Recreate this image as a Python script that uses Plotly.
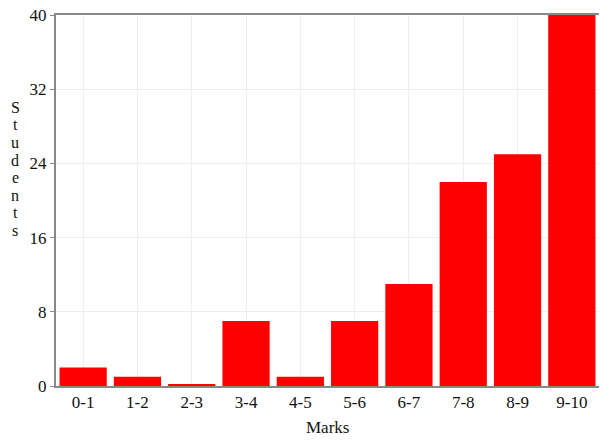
import plotly.graph_objects as go

categories = ["0-1", "1-2", "2-3", "3-4", "4-5", "5-6", "6-7", "7-8", "8-9", "9-10"]
students = [2, 1, 0.2, 7, 1, 7, 11, 22, 25, 40]
y_ticks = [0, 8, 16, 24, 32, 40]
y_title = "Students"
x_title = "Marks"

font = "Liberation Serif, Times New Roman, serif"

fig = go.Figure(go.Bar(
    x=categories, y=students,
    marker=dict(color="#ff0000", line=dict(width=0)),
))

letters = list(y_title)
n = len(letters)
step = 17.6
annotations = [
    dict(text=ch, xref="paper", yref="paper", x=-0.0755, y=0.585,
         yshift=((n - 1) / 2 - i) * step, xanchor="center", yanchor="middle",
         showarrow=False, font=dict(family=font, size=16, color="#111"))
    for i, ch in enumerate(letters)
]
annotations.append(
    dict(text=x_title, xref="paper", yref="paper", x=0.5, y=0, yshift=-30,
         xanchor="center", yanchor="top", showarrow=False,
         font=dict(family=font, size=17, color="#111"))
)

fig.update_layout(
    width=601, height=440,
    margin=dict(l=56, r=2, t=15, b=54, autoexpand=False),
    paper_bgcolor="white", plot_bgcolor="white",
    bargap=0.13,
    showlegend=False,
    font=dict(family=font, size=17, color="#111"),
    annotations=annotations,
)
fig.update_xaxes(
    automargin=False,
    showgrid=True, gridcolor="#eeeeee", gridwidth=1,
    showline=True, linecolor="#888", linewidth=2, mirror=True,
    ticks="", tickfont=dict(family=font, size=17),
)
fig.update_yaxes(
    automargin=False,
    range=[0, 40], tickvals=y_ticks,
    showgrid=True, gridcolor="#eeeeee", gridwidth=1,
    showline=True, linecolor="#888", linewidth=2,
    ticks="outside", ticklen=4, tickcolor="#888",
    tickfont=dict(family=font, size=17), zeroline=False,
)

fig.write_html("out.html", config={"displayModeBar": False},
               post_script="document.body.style.margin='0';")
